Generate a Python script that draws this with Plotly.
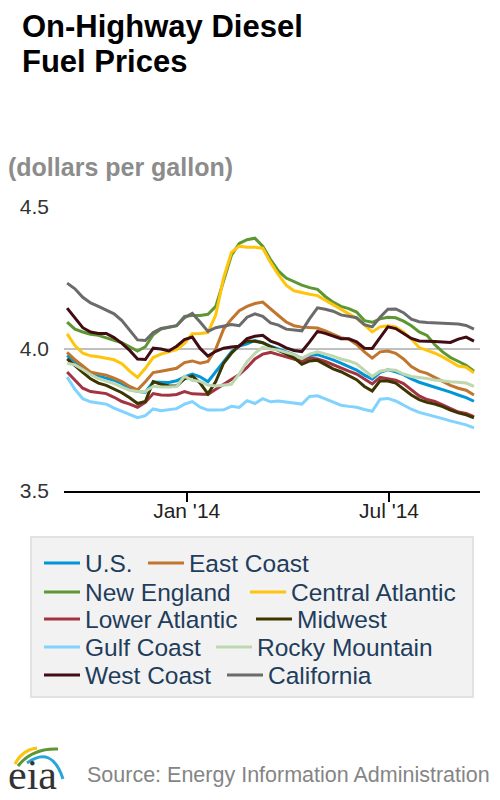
import plotly.graph_objects as go
import pandas as pd

# ---------------- data (weekly, Sep 16 2013 - Sep 15 2014) ----------------
dates = pd.date_range("2013-09-16", periods=53, freq="7D")

us = [3.977, 3.955, 3.932, 3.912, 3.904, 3.898, 3.890, 3.878, 3.862, 3.850, 3.848,
      3.884, 3.884, 3.882, 3.888, 3.902, 3.912, 3.902, 3.885, 3.920, 3.958, 3.990,
      4.010, 4.018, 4.030, 4.022, 4.010, 4.000, 3.990, 3.980, 3.966, 3.977, 3.980,
      3.972, 3.962, 3.950, 3.938, 3.926, 3.908, 3.894, 3.918, 3.927, 3.920, 3.910,
      3.895, 3.883, 3.874, 3.866, 3.858, 3.848, 3.838, 3.829, 3.816]
east_coast = [3.988, 3.962, 3.940, 3.918, 3.913, 3.908, 3.897, 3.885, 3.868, 3.856, 3.885,
              3.917, 3.922, 3.926, 3.932, 3.952, 3.958, 3.950, 3.956, 4.000, 4.070, 4.105,
              4.135, 4.150, 4.160, 4.165, 4.140, 4.118, 4.095, 4.082, 4.077, 4.075, 4.074,
              4.064, 4.052, 4.040, 4.035, 4.016, 3.990, 3.968, 3.990, 3.993, 3.985, 3.965,
              3.938, 3.922, 3.914, 3.900, 3.885, 3.872, 3.862, 3.855, 3.838]
new_england = [4.095, 4.070, 4.060, 4.052, 4.048, 4.040, 4.032, 4.022, 4.008, 3.993, 4.008,
               4.050, 4.070, 4.075, 4.082, 4.115, 4.118, 4.118, 4.122, 4.150, 4.240, 4.330,
               4.372, 4.385, 4.390, 4.362, 4.315, 4.275, 4.250, 4.238, 4.225, 4.216, 4.210,
               4.185, 4.165, 4.150, 4.142, 4.130, 4.100, 4.094, 4.106, 4.112, 4.110, 4.098,
               4.082, 4.060, 4.048, 4.015, 3.990, 3.970, 3.955, 3.943, 3.922]
central_atlantic = [4.053, 4.012, 3.985, 3.976, 3.973, 3.968, 3.962, 3.948, 3.922, 3.900, 3.932,
                    3.970, 3.982, 3.990, 3.998, 4.020, 4.054, 4.055, 4.058, 4.120, 4.250, 4.340,
                    4.362, 4.358, 4.358, 4.355, 4.305, 4.262, 4.225, 4.205, 4.198, 4.193, 4.188,
                    4.172, 4.155, 4.140, 4.124, 4.108, 4.085, 4.060, 4.078, 4.082, 4.078, 4.060,
                    4.035, 4.005, 3.995, 3.985, 3.972, 3.955, 3.940, 3.936, 3.916]
lower_atlantic = [3.919, 3.890, 3.862, 3.850, 3.846, 3.843, 3.830, 3.815, 3.806, 3.795, 3.812,
                  3.843, 3.838, 3.837, 3.840, 3.850, 3.842, 3.840, 3.840, 3.858, 3.875, 3.890,
                  3.910, 3.935, 3.965, 3.982, 3.988, 3.980, 3.972, 3.965, 3.956, 3.968, 3.965,
                  3.956, 3.944, 3.934, 3.922, 3.912, 3.895, 3.877, 3.900, 3.896, 3.890, 3.878,
                  3.855, 3.835, 3.822, 3.815, 3.803, 3.790, 3.778, 3.773, 3.762]
midwest = [3.965, 3.940, 3.918, 3.895, 3.880, 3.872, 3.860, 3.846, 3.828, 3.808, 3.815,
           3.885, 3.876, 3.871, 3.870, 3.895, 3.905, 3.880, 3.842, 3.885, 3.950, 3.985,
           4.012, 4.028, 4.027, 4.022, 4.008, 3.995, 3.983, 3.970, 3.946, 3.958, 3.960,
           3.945, 3.930, 3.920, 3.906, 3.892, 3.868, 3.852, 3.888, 3.887, 3.880, 3.860,
           3.838, 3.822, 3.812, 3.806, 3.797, 3.785, 3.775, 3.768, 3.758]
gulf_coast = [3.901, 3.858, 3.825, 3.814, 3.810, 3.806, 3.792, 3.780, 3.770, 3.758, 3.765,
              3.789, 3.783, 3.786, 3.790, 3.806, 3.815, 3.795, 3.785, 3.785, 3.786, 3.798,
              3.794, 3.818, 3.808, 3.825, 3.814, 3.817, 3.813, 3.810, 3.806, 3.833, 3.835,
              3.824, 3.812, 3.802, 3.798, 3.795, 3.787, 3.781, 3.823, 3.826, 3.817, 3.802,
              3.788, 3.777, 3.770, 3.764, 3.755, 3.747, 3.740, 3.733, 3.722]
rocky_mountain = [3.950, 3.944, 3.928, 3.910, 3.896, 3.888, 3.878, 3.866, 3.855, 3.850, 3.850,
                  3.869, 3.866, 3.866, 3.868, 3.904, 3.890, 3.886, 3.873, 3.870, 3.872, 3.876,
                  3.912, 3.955, 3.985, 4.006, 4.000, 3.996, 3.988, 3.980, 3.966, 3.982, 3.990,
                  3.983, 3.975, 3.965, 3.958, 3.948, 3.925, 3.903, 3.922, 3.927, 3.925, 3.912,
                  3.903, 3.900, 3.896, 3.891, 3.887, 3.885, 3.883, 3.880, 3.868]
west_coast = [4.144, 4.108, 4.075, 4.060, 4.055, 4.055, 4.040, 4.020, 3.995, 3.965, 3.963,
              4.003, 4.000, 3.993, 4.010, 4.033, 4.042, 4.002, 3.975, 3.992, 4.003, 4.007,
              4.010, 4.037, 4.045, 4.048, 4.028, 4.018, 4.004, 3.995, 3.991, 4.025, 4.062,
              4.055, 4.045, 4.036, 4.036, 4.025, 4.003, 4.002, 4.040, 4.078, 4.072, 4.055,
              4.037, 4.028, 4.026, 4.026, 4.025, 4.023, 4.035, 4.042, 4.028]
california = [4.232, 4.212, 4.182, 4.162, 4.150, 4.138, 4.124, 4.100, 4.065, 4.032, 4.030,
              4.058, 4.072, 4.076, 4.082, 4.110, 4.125, 4.095, 4.062, 4.075, 4.080, 4.086,
              4.082, 4.112, 4.124, 4.115, 4.092, 4.084, 4.070, 4.066, 4.064, 4.107, 4.145,
              4.140, 4.133, 4.120, 4.114, 4.110, 4.086, 4.078, 4.112, 4.140, 4.141, 4.128,
              4.105, 4.096, 4.093, 4.092, 4.092, 4.090, 4.088, 4.083, 4.070]

names = ["U.S.", "East Coast", "New England", "Central Atlantic", "Lower Atlantic",
         "Midwest", "Gulf Coast", "Rocky Mountain", "West Coast", "California"]
values = [us, east_coast, new_england, central_atlantic, lower_atlantic,
          midwest, gulf_coast, rocky_mountain, west_coast, california]
colors = ["#0096d7", "#c0762f", "#5d9732", "#ffc40c", "#a33340",
          "#3d3500", "#80d3ff", "#bdd7ae", "#420d12", "#6b6b6b"]

y_ticks = [3.5, 4.0, 4.5]
y_tick_text = ["3.5", "4.0", "4.5"]
x_ticks = ["2014-01-01", "2014-07-01"]
x_tick_text = ["Jan '14", "Jul '14"]

# ---------------- layout helpers (page pixel -> paper) ----------------
OFF = 8                      # the page places the figure 8px from the top-left corner
W, H = 500 - OFF, 800 - OFF
PLOT_X0, PLOT_X1 = 64, 480   # page pixels of the plot area
PLOT_Y0, PLOT_Y1 = 207, 491
L = PLOT_X0 - OFF
R = W - (PLOT_X1 - OFF)
T = PLOT_Y0 - OFF
B = H - (PLOT_Y1 - OFF)
PW, PH = PLOT_X1 - PLOT_X0, PLOT_Y1 - PLOT_Y0


def px(x):
    return (x - PLOT_X0) / PW


def py(y):
    return (PLOT_Y1 - y) / PH


FONT = "Liberation Sans, Arial, sans-serif"

fig = go.Figure()

# legend slots (swatch-left page x, row-centre page y)
slot_x = [44, 148, 44, 250, 44, 256, 44, 216, 44, 227]
slot_y = [563, 563, 592, 592, 619, 619, 647, 647, 675, 675]

for i, (nm, vals, col) in enumerate(zip(names, values, colors)):
    leg = "legend" if i == 0 else f"legend{i + 1}"
    fig.add_trace(go.Scatter(x=dates, y=vals, name=nm, mode="lines",
                             line=dict(color=col, width=3), legend=leg,
                             hoverinfo="x+y+name"))

legend_common = dict(orientation="h", bgcolor="rgba(0,0,0,0)", borderwidth=0,
                     font=dict(family=FONT, size=24.5, color="#1f3d5c"),
                     xanchor="left", yanchor="middle", itemwidth=36,
                     tracegroupgap=0, itemclick=False)
legs = {}
for i in range(10):
    key = "legend" if i == 0 else f"legend{i + 1}"
    legs[key] = dict(legend_common, x=px(slot_x[i] - 5), y=py(slot_y[i]))

fig.update_layout(
    width=W, height=H,
    margin=dict(l=L, r=R, t=T, b=B, pad=0),
    paper_bgcolor="white", plot_bgcolor="white",
    showlegend=True,
    font=dict(family=FONT),
    xaxis=dict(type="date", range=["2013-09-13 05:00", "2014-09-20 10:00"],
               tickvals=x_ticks, ticktext=x_tick_text,
               showgrid=False, zeroline=False,
               showline=True, linecolor="black", linewidth=2,
               ticks="outside", ticklen=9, tickwidth=2, tickcolor="black",
               ticklabelstandoff=-9,
               tickfont=dict(family=FONT, size=21, color="#222222")),
    yaxis=dict(range=[3.5, 4.5], tickvals=y_ticks, ticktext=y_tick_text,
               showgrid=True, gridcolor="#c0c0c0", gridwidth=2,
               zeroline=False, showline=False, ticks="",
               ticklabelstandoff=14,
               tickfont=dict(family=FONT, size=21, color="#333333")),
    **legs,
)

# legend background box
fig.add_shape(type="rect", xref="paper", yref="paper",
              x0=px(31), x1=px(473), y0=py(537), y1=py(697),
              fillcolor="#f2f2f2", line=dict(color="#e2e2e2", width=2), layer="below")

# titles / notes
fig.add_annotation(xref="paper", yref="paper", x=px(20), y=py(26), xanchor="left", yanchor="middle",
                   text="<b>On-Highway Diesel</b>", showarrow=False,
                   font=dict(family=FONT, size=31, color="black"))
fig.add_annotation(xref="paper", yref="paper", x=px(20), y=py(62), xanchor="left", yanchor="middle",
                   text="<b>Fuel Prices</b>", showarrow=False,
                   font=dict(family=FONT, size=31, color="black"))
fig.add_annotation(xref="paper", yref="paper", x=px(6), y=py(167), xanchor="left", yanchor="middle",
                   text="<b>(dollars per gallon)</b>", showarrow=False,
                   font=dict(family=FONT, size=25, color="#8c8c8c"))
fig.add_annotation(xref="paper", yref="paper", x=px(85), y=py(775), xanchor="left", yanchor="middle",
                   text="Source: Energy Information Administration", showarrow=False,
                   font=dict(family=FONT, size=21.5, color="#858585"))

# eia logo (text + arcs)
fig.add_annotation(xref="paper", yref="paper", x=px(6), y=py(775), xanchor="left", yanchor="middle",
                   text="eia", showarrow=False,
                   font=dict(family="Liberation Serif, Times New Roman, serif", size=42, color="#333333"))


def arc(p0, c, p1, col, w):
    d = (f"M {px(p0[0])},{py(p0[1])} Q {px(c[0])},{py(c[1])} {px(p1[0])},{py(p1[1])}")
    fig.add_shape(type="path", xref="paper", yref="paper", path=d,
                  line=dict(color=col, width=w))


arc((15, 764), (22, 750), (37, 748), "#ffc20e", 3)
arc((18, 766), (32, 748), (58, 749), "#5d9732", 3)
arc((27, 763), (52, 745), (63, 779), "#2aa5dc", 3)

fig.write_html("out.html")
